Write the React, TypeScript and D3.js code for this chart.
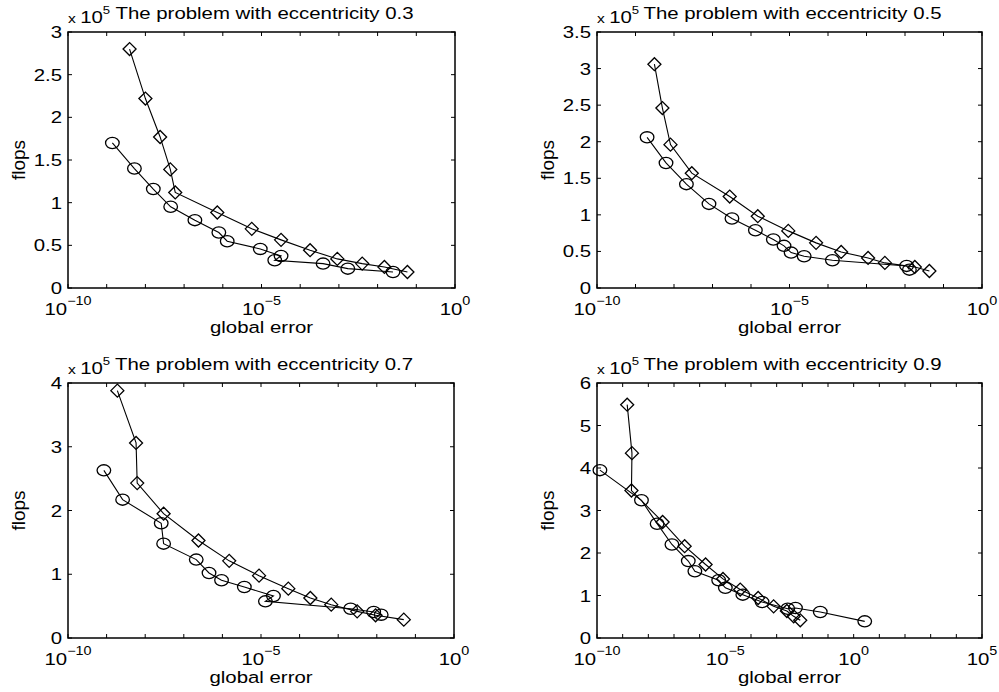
import React from 'react'
import * as d3 from 'd3'

// flops are in units of 1e5, errors are the global error values
const titles = [
  'The problem with eccentricity 0.3',
  'The problem with eccentricity 0.5',
  'The problem with eccentricity 0.7',
  'The problem with eccentricity 0.9',
]

const yMax = [3, 3.5, 4, 6]
const yTicks = [
  [0, 0.5, 1, 1.5, 2, 2.5, 3],
  [0, 0.5, 1, 1.5, 2, 2.5, 3, 3.5],
  [0, 1, 2, 3, 4],
  [0, 1, 2, 3, 4, 5, 6],
]
const xExpMax = [0, 0, 0, 5]
const xLabelExps = [
  [-10, -5, 0],
  [-10, -5, 0],
  [-10, -5, 0],
  [-10, -5, 0, 5],
]

const diamondErr = [
  [3.9e-9, 1.0e-8, 2.4e-8, 4.4e-8, 5.9e-8, 7.2e-7, 5.6e-6, 3.2e-5, 1.8e-4, 9.1e-4, 4.0e-3, 1.5e-2, 5.9e-2],
  [3.1e-9, 5.0e-9, 8.1e-9, 2.9e-8, 2.8e-7, 1.5e-6, 9.3e-6, 4.9e-5, 2.2e-4, 1.1e-3, 3.0e-3, 1.8e-2, 4.3e-2],
  [1.9e-9, 5.8e-9, 6.2e-9, 3.0e-8, 2.4e-7, 1.5e-6, 8.9e-6, 5.1e-5, 1.9e-4, 6.6e-4, 3.1e-3, 9.3e-3, 5.0e-2],
  [1.5e-9, 2.3e-9, 2.2e-9, 3.6e-8, 2.6e-7, 1.7e-6, 8.1e-6, 3.8e-5, 1.9e-4, 7.6e-4, 2.5e-3, 4.6e-3, 8.3e-3],
]
const diamondFlops = [
  [2.80, 2.22, 1.77, 1.39, 1.12, 0.885, 0.693, 0.564, 0.443, 0.341, 0.286, 0.247, 0.188],
  [3.06, 2.46, 1.96, 1.57, 1.25, 0.982, 0.781, 0.617, 0.493, 0.411, 0.343, 0.288, 0.233],
  [3.88, 3.06, 2.43, 1.95, 1.53, 1.21, 0.978, 0.774, 0.627, 0.523, 0.418, 0.356, 0.288],
  [5.49, 4.35, 3.47, 2.73, 2.16, 1.73, 1.39, 1.14, 0.941, 0.745, 0.635, 0.510, 0.416],
]

const circleErr = [
  [1.4e-9, 5.2e-9, 1.6e-8, 4.5e-8, 1.9e-7, 7.9e-7, 1.3e-6, 9.3e-6, 3.2e-5, 2.2e-5, 3.9e-4, 1.7e-3, 2.5e-2],
  [2.0e-9, 6.2e-9, 2.1e-8, 8.1e-8, 3.2e-7, 1.3e-6, 3.8e-6, 7.2e-6, 1.1e-5, 2.4e-5, 1.3e-4, 1.1e-2, 1.3e-2],
  [8.5e-10, 2.6e-9, 2.6e-8, 3.0e-8, 2.1e-7, 4.5e-7, 9.5e-7, 3.7e-6, 2.1e-5, 1.3e-5, 2.1e-3, 8.3e-3, 1.3e-2],
  [1.3e-10, 5.4e-9, 2.2e-8, 8.3e-8, 3.6e-7, 6.5e-7, 5.5e-6, 1.0e-5, 4.8e-5, 2.7e-4, 2.7e-3, 5.4e-3, 5.0e-2, 2.7],
]
const circleFlops = [
  [1.70, 1.40, 1.16, 0.952, 0.795, 0.650, 0.548, 0.458, 0.376, 0.325, 0.286, 0.227, 0.188],
  [2.06, 1.71, 1.42, 1.15, 0.950, 0.790, 0.663, 0.576, 0.484, 0.434, 0.379, 0.302, 0.251],
  [2.63, 2.17, 1.80, 1.48, 1.23, 1.02, 0.905, 0.800, 0.659, 0.575, 0.460, 0.408, 0.366],
  [3.95, 3.24, 2.69, 2.20, 1.81, 1.57, 1.36, 1.18, 1.02, 0.847, 0.690, 0.706, 0.612, 0.392],
]

const W = 999
const H = 692
const boxes = [
  { left: 68, top: 32, w: 387, h: 256 },
  { left: 597, top: 32, w: 385, h: 256 },
  { left: 68, top: 383, w: 386, h: 255 },
  { left: 597, top: 383, w: 385, h: 255 },
]
const SX = 1.2 // the picture's text is stretched sideways
const FS = 17
const font = 'Liberation Sans, Arial, Helvetica, sans-serif'

function Panel({ i }: { i: number }) {
  const b = boxes[i]
  const x = d3.scaleLog().domain([1e-10, Math.pow(10, xExpMax[i])]).range([b.left, b.left + b.w])
  const y = d3.scaleLinear().domain([0, yMax[i]]).range([b.top + b.h, b.top])
  const decades = d3.range(-10, xExpMax[i] + 1)
  const line = d3.line<[number, number]>().x(d => x(d[0])).y(d => y(d[1]))
  const dPts: [number, number][] = diamondErr[i].map((e, k) => [e, diamondFlops[i][k]])
  const cPts: [number, number][] = circleErr[i].map((e, k) => [e, circleFlops[i][k]])
  const tl = 4
  const cx = b.left + b.w / 2
  return (
    <g fontFamily={font} fill="#000">
      {/* ticks */}
      {decades.map(p => {
        const px = x(Math.pow(10, p))
        return (
          <g key={'xt' + p} stroke="#000" strokeWidth={1}>
            <line x1={px} x2={px} y1={b.top + b.h} y2={b.top + b.h - tl} />
            <line x1={px} x2={px} y1={b.top} y2={b.top + tl} />
          </g>
        )
      })}
      {yTicks[i].map(t => (
        <g key={'yt' + t} stroke="#000" strokeWidth={1}>
          <line x1={b.left} x2={b.left + tl} y1={y(t)} y2={y(t)} />
          <line x1={b.left + b.w} x2={b.left + b.w - tl} y1={y(t)} y2={y(t)} />
        </g>
      ))}
      <rect x={b.left} y={b.top} width={b.w} height={b.h} fill="none" stroke="#000" strokeWidth={1.5} />

      {/* y tick labels */}
      {yTicks[i].map(t => (
        <text key={'yl' + t} transform={`translate(${b.left - 6},${y(t) + 6}) scale(${SX},1)`}
          textAnchor="end" fontSize={FS}>{String(t)}</text>
      ))}
      {/* x tick labels */}
      {xLabelExps[i].map(p => (
        <text key={'xl' + p} transform={`translate(${x(Math.pow(10, p))},${b.top + b.h + 27}) scale(${SX},1)`}
          textAnchor="middle" fontSize={FS}>
          10<tspan dy={-10} fontSize={12}>{p < 0 ? '\u2212' + Math.abs(p) : String(p)}</tspan>
        </text>
      ))}

      {/* exponent and title */}
      <text transform={`translate(${b.left},${b.top - 9}) scale(${SX},1)`} fontSize={13}>
        x <tspan fontSize={FS}>10</tspan><tspan dy={-9} fontSize={11}>5</tspan>
      </text>
      <text transform={`translate(${cx + 3},${b.top - 13}) scale(${SX},1)`} textAnchor="middle" fontSize={FS}>
        {titles[i]}
      </text>

      {/* axis labels */}
      <text transform={`translate(${b.left - 43},${b.top + b.h / 2}) rotate(-90)`} textAnchor="middle" fontSize={19}>flops</text>
      <text transform={`translate(${cx},${b.top + b.h + 45}) scale(${SX},1)`} textAnchor="middle" fontSize={FS}>global error</text>

      {/* data */}
      <path d={line(dPts) || ''} fill="none" stroke="#000" strokeWidth={1.1} />
      <path d={line(cPts) || ''} fill="none" stroke="#000" strokeWidth={1.1} />
      {dPts.map((p, k) => {
        const px = x(p[0]), py = y(p[1])
        return (
          <path key={'d' + k} d={`M${px - 6.5},${py}L${px},${py - 6.5}L${px + 6.5},${py}L${px},${py + 6.5}Z`}
            fill="none" stroke="#000" strokeWidth={1.3} />
        )
      })}
      {cPts.map((p, k) => (
        <ellipse key={'c' + k} cx={x(p[0])} cy={y(p[1])} rx={6.8} ry={5.6} fill="none" stroke="#000" strokeWidth={1.3} />
      ))}
    </g>
  )
}

export default function App() {
  return (
    <svg width={W} height={H} style={{ position: 'absolute', left: 0, top: 0, background: '#fff' }}>
      <rect width={W} height={H} fill="#fff" />
      {titles.map((_, i) => <Panel key={i} i={i} />)}
    </svg>
  )
}
